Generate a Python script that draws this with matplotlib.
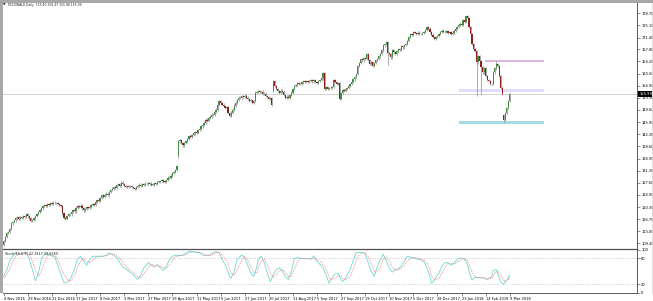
import numpy as np
import matplotlib
matplotlib.use("Agg")
import matplotlib.pyplot as plt
from matplotlib.patches import Rectangle
from matplotlib.lines import Line2D

# ---- data ----
title_text = "MCDONALD,Daily  155.40 156.47 155.88 155.99"
stoch_text = "Stoch(15,5,3) 42.3817 39.6380"
bid_text = "155.99"

first_open = 108.9
closes = [
    110.2, 111.3, 112.6, 112.9, 113.8, 115.4, 115.9, 116.3, 116.9, 117.2,
    116.8, 117.4, 117.1, 117.6, 117.3, 118.3, 117.5, 116.9, 116.2, 116.5,
    116.9, 117.6, 118.2, 118.9, 119.3, 119.9, 120.6, 120.9, 120.7, 121.2,
    121.0, 121.5, 121.4, 121.7, 121.5, 121.6, 121.3, 120.9, 120.6, 118.4,
    117.1, 116.8, 117.6, 118.3, 118.1, 118.9, 119.3, 119.0, 120.2, 120.6,
    120.4, 120.8, 119.9, 119.3, 119.8, 120.3, 120.0, 120.5, 120.9, 121.3,
    121.0, 121.8, 122.4, 122.1, 123.0, 123.9, 123.5, 124.1, 124.4, 124.0,
    124.9, 125.5, 125.9, 126.3, 126.0, 126.9, 127.2, 126.8, 127.7, 127.3,
    126.6, 126.4, 126.7, 126.3, 126.5, 126.4, 126.1, 125.9, 126.3, 126.8,
    127.1, 126.8, 127.2, 127.0, 127.4, 127.2, 127.5, 127.4, 127.0, 127.1,
    127.6, 127.3, 127.9, 127.9, 128.2, 128.4, 128.0, 127.9, 128.5, 129.2,
    129.0, 129.8, 130.5, 130.9, 131.5, 132.6, 140.1, 140.6, 139.6, 138.9,
    139.7, 140.1, 140.9, 141.6, 141.4, 142.1, 142.5, 142.9, 142.6, 143.6,
    143.9, 144.6, 145.2, 145.8, 146.7, 146.4, 147.2, 147.6, 148.2, 148.0,
    149.1, 149.7, 151.0, 152.3, 151.6, 151.2, 150.8, 150.2, 150.5, 148.7,
    147.7, 148.8, 149.7, 150.9, 151.8, 152.6, 153.3, 153.1, 153.8, 153.5,
    153.9, 153.3, 152.9, 152.3, 152.6, 151.8, 152.3, 154.8, 155.0, 155.3,
    154.9, 155.1, 154.3, 154.5, 153.8, 153.4, 152.8, 153.1, 151.0, 158.3,
    156.9, 155.8, 155.2, 154.8, 155.4, 155.1, 154.0, 153.1, 153.6, 153.3,
    154.1, 154.8, 155.9, 156.8, 157.2, 157.8, 157.5, 157.3, 157.9, 158.3,
    158.0, 158.4, 158.1, 158.3, 158.6, 158.2, 158.5, 158.1, 157.8, 158.4,
    158.7, 159.1, 160.6, 155.8, 156.4, 155.9, 156.1, 156.3, 156.5, 158.5,
    158.1, 157.5, 157.8, 152.8, 154.6, 155.5, 155.2, 155.8, 156.2, 156.7,
    157.3, 158.1, 158.8, 159.6, 160.4, 162.9, 163.8, 164.9, 164.5, 165.2,
    164.9, 166.4, 164.6, 163.4, 163.9, 162.9, 163.8, 164.5, 164.9, 165.7,
    166.4, 167.5, 169.0, 169.4, 170.0, 166.8, 166.4, 165.4, 167.5, 166.9,
    166.4, 167.2, 168.0, 167.6, 168.7, 168.4, 169.1, 169.5, 170.4, 171.5,
    172.5, 172.2, 173.0, 172.7, 172.5, 172.9, 172.4, 172.5, 172.8, 173.0,
    173.6, 174.5, 174.1, 173.0, 172.3, 171.6, 171.0, 171.5, 171.9, 172.5,
    173.1, 173.5, 173.2, 173.0, 173.4, 172.7, 173.0, 172.5, 172.7, 173.5,
    174.0, 174.6, 175.1, 175.6, 175.3, 176.6, 176.1, 177.8, 177.2, 174.5,
    172.5, 169.5, 168.0, 167.4, 163.9, 165.8, 164.4, 162.4, 160.9, 162.3,
    159.9, 158.7, 158.3, 157.3, 157.5, 160.9, 162.1, 163.4, 162.9, 159.9,
    156.3, 154.3, 146.6, 148.7, 150.2, 152.3, 154.3,
]
gap_opens = {116: 135.8, 179: 155.4, 332: 148.0}
wick_lows = {116: 135.0, 255: 163.0, 314: 153.8, 317: 154.5, 332: 145.7}
wick_highs = {308: 178.3, 327: 164.3}

# rectangles drawn on the chart (start bar, end bar, low, high, colour)
zone_start = [319.3, 302.0, 302.0]
zone_end = [358.7, 358.7, 358.7]
zone_low = [163.9, 155.0, 145.5]
zone_high = [164.6, 155.75, 146.4]
zone_colors = ["#dab6dc", "#dedef8", "#a3dce2"]

price_ticks = [178.70, 175.10, 171.40, 167.80, 164.20, 160.50, 156.90, 153.30,
               149.60, 145.90, 142.30, 138.60, 134.90, 131.30, 127.60, 124.00,
               120.30, 116.70, 113.00, 109.40]

date_labels = ["4 Nov 2016", "29 Nov 2016", "21 Dec 2016", "17 Jan 2017", "8 Feb 2017",
               "3 Mar 2017", "27 Mar 2017", "19 Apr 2017", "11 May 2017", "5 Jun 2017",
               "27 Jun 2017", "20 Jul 2017", "11 Aug 2017", "5 Sep 2017", "27 Sep 2017",
               "19 Oct 2017", "10 Nov 2017", "5 Dec 2017", "28 Dec 2017", "23 Jan 2018",
               "14 Feb 2018", "9 Mar 2018"]
date_step = 16

stoch_idx = [0, 2, 4, 6, 8, 10, 13, 15, 17, 19, 21, 23, 25, 27, 29, 31, 34, 36, 38, 40,
             43, 45, 47, 49, 51, 53, 55, 57, 59, 61, 64, 66, 68, 70, 72, 75, 77, 79, 81, 83,
             86, 88, 89, 91, 93, 96, 98, 100, 102, 104, 106, 108, 110, 112, 114, 117, 119, 121, 123, 125,
             128, 130, 132, 134, 137, 139, 141, 143, 145, 148, 150, 151, 153, 155, 158, 160, 162, 164, 166, 168,
             169, 171, 173, 175, 177, 179, 181, 183, 185, 187, 189, 191, 193, 195, 197, 200, 202, 204, 206, 207,
             210, 212, 214, 216, 217, 220, 222, 224, 225, 227, 230, 232, 234, 236, 238, 240, 242, 244, 246, 247,
             249, 251, 252, 254, 256, 258, 260, 262, 264, 266, 268, 271, 273, 275, 277, 279, 281, 283, 284, 286,
             289, 291, 293, 295, 297, 299, 302, 304, 306, 308, 309, 311, 313, 315, 317, 319, 321, 324, 325, 327,
             328, 330, 332, 333, 335, 336]
stoch_main = [38, 54, 74, 86, 93, 90, 93, 94, 78, 54, 28, 46, 78, 90, 90, 88, 82, 62, 42, 23,
              26, 38, 56, 78, 85, 74, 64, 77, 85, 85, 85, 85, 88, 93, 90, 82, 70, 60, 56, 50,
              42, 34, 31, 42, 58, 70, 64, 60, 66, 58, 52, 62, 77, 85, 88, 86, 88, 93, 96, 96,
              94, 93, 88, 86, 88, 93, 96, 93, 78, 58, 38, 34, 50, 78, 88, 82, 64, 46, 38, 60,
              78, 85, 70, 46, 26, 42, 54, 58, 50, 38, 31, 50, 80, 82, 80, 80, 80, 78, 86, 77,
              66, 58, 42, 22, 30, 44, 45, 30, 26, 34, 54, 74, 93, 94, 94, 90, 70, 50, 38, 50,
              70, 82, 90, 74, 58, 48, 54, 56, 62, 74, 85, 82, 80, 78, 77, 72, 58, 38, 22, 30,
              46, 62, 70, 70, 64, 70, 80, 81, 78, 66, 50, 30, 36, 35, 35, 34, 30, 38, 52, 54,
              46, 26, 20, 26, 34, 42]
stoch_signal = [34, 42, 56, 72, 84, 90, 91, 93, 88, 74, 52, 38, 50, 72, 86, 89, 86, 76, 60, 42,
                28, 28, 40, 58, 74, 80, 72, 70, 76, 82, 85, 85, 86, 89, 91, 87, 80, 70, 62, 55,
                48, 40, 36, 35, 44, 58, 66, 64, 63, 62, 58, 57, 64, 75, 84, 87, 87, 89, 93, 95,
                95, 94, 92, 88, 87, 89, 93, 94, 88, 74, 56, 46, 41, 54, 75, 84, 77, 62, 48, 46,
                58, 74, 78, 66, 46, 36, 42, 52, 54, 48, 38, 38, 54, 72, 81, 80, 80, 79, 81, 80,
                74, 66, 55, 38, 30, 34, 40, 39, 33, 30, 38, 54, 74, 88, 93, 93, 84, 68, 52, 46,
                52, 68, 78, 82, 74, 60, 53, 53, 57, 64, 74, 82, 82, 80, 78, 76, 69, 56, 40, 30,
                33, 46, 60, 68, 68, 67, 72, 78, 80, 75, 65, 48, 38, 34, 35, 35, 33, 34, 40, 48,
                51, 42, 30, 25, 31, 39]

# ---- figure layout (pixel based) ----
W, H = 653, 301
fig = plt.figure(figsize=(W / 100, H / 100), dpi=100)
fig.patch.set_facecolor("white")
plt.rcParams["font.family"] = ["DejaVu Sans"]


def box(x0, y0, x1, y1):
    return [x0 / W, 1 - y1 / H, (x1 - x0) / W, (y1 - y0) / H]


ax = fig.add_axes(box(3, 3, 637, 249))
ax2 = fig.add_axes(box(3, 249, 637, 292.7), sharex=ax)

n = len(closes)
idx = np.arange(n)
c = np.array(closes)
o = np.r_[first_open, c[:-1]]
for k, v in gap_opens.items():
    o[k] = v
top = np.maximum(o, c)
bot = np.minimum(o, c)
hi = top + 0.35
lo = bot - 0.35
for k, v in wick_lows.items():
    lo[k] = v
for k, v in wick_highs.items():
    hi[k] = v

# zones
for s, e, l, h, col in zip(zone_start, zone_end, zone_low, zone_high, zone_colors):
    ax.add_patch(Rectangle((s, l), e - s, h - l, facecolor=col, edgecolor="none", zorder=1))

# bid line
ax.axhline(c[-1], color="#cccccc", lw=0.6, zorder=1)

ax.vlines(idx, lo, hi, color="#a8a8a8", lw=0.7, zorder=2)
up = c >= o
cols = np.where(up, "#438c43", "#8e1f1f")
ax.bar(idx, np.maximum(top - bot, 0.2), bottom=bot, width=0.85, color=cols, linewidth=0, zorder=3)

ax.set_xlim(-0.5, 420.5)
ax.set_ylim(107.7, 181.8)
ax.yaxis.tick_right()
ax.set_yticks(price_ticks)
ax.set_yticklabels(["%.2f" % t for t in price_ticks])
ax.tick_params(axis="y", length=2, width=0.4, color="#404040", labelsize=2.6, pad=1)
ax.tick_params(axis="x", bottom=False, labelbottom=False)
for side in ["left", "top", "bottom"]:
    ax.spines[side].set_visible(False)
ax.spines["right"].set_color("#404040")
ax.spines["right"].set_linewidth(0.6)

# stochastic panel
ax2.axhline(80, color="#b4b4b4", lw=0.5, ls=(0, (1, 1.5)))
ax2.axhline(20, color="#b4b4b4", lw=0.5, ls=(0, (1, 1.5)))
ax2.plot(stoch_idx, stoch_main, color="#6fd6d6", lw=0.6)
ax2.plot(stoch_idx, stoch_signal, color="#f08080", lw=0.6, ls=(0, (1.2, 1.2)))
ax2.set_ylim(0, 102)
ax2.yaxis.tick_right()
ax2.set_yticks([0, 20, 80, 100])
ax2.set_yticklabels(["0", "20", "80", "100"])
ax2.tick_params(axis="y", length=2, width=0.4, color="#404040", labelsize=2.6, pad=1)
date_pos = [k * date_step for k in range(len(date_labels))]
ax2.set_xticks(date_pos)
ax2.set_xticklabels(date_labels, ha="left")
ax2.tick_params(axis="x", length=2, width=0.4, color="#404040", labelsize=2.6, pad=1)
ax2.spines["left"].set_visible(False)
for side in ["right", "bottom"]:
    ax2.spines[side].set_color("#404040")
    ax2.spines[side].set_linewidth(0.6)
ax2.spines["top"].set_color("#505050")
ax2.spines["top"].set_linewidth(0.9)
ax2.text(0.5, 96, stoch_text, fontsize=2.4, va="top", ha="left", color="#222222")

# header and window frame
fig.text(7.5 / W, 1 - 5 / H, title_text, fontsize=2.2, va="center", ha="left", color="#222222")
fig.text(2.5 / W, 1 - 5 / H, "\u25bc", fontsize=2.4, va="center", ha="left", color="#222222")
fig.patches.append(Rectangle((0, 1 - 2.5 / H), 1, 2.5 / H, transform=fig.transFigure,
                             facecolor="#a8a8a8", edgecolor="none"))
fig.patches.append(Rectangle((0, 1 - 293 / H), 2.5 / W, 293 / H, transform=fig.transFigure,
                             facecolor="#a8a8a8", edgecolor="none"))
fig.lines.append(Line2D([651.5 / W, 651.5 / W], [1 - 293 / H, 1 - 2.5 / H], transform=fig.transFigure,
                        color="#d0d0d0", lw=0.5))

# current price box on the price scale
yb = ax.transData.transform((0, c[-1]))[1] / H
fig.patches.append(Rectangle((637.5 / W, yb - 2.8 / H), 14 / W, 5.6 / H, transform=fig.transFigure,
                             facecolor="black", edgecolor="none"))
fig.text(639.5 / W, yb, bid_text, fontsize=2.6, va="center", ha="left", color="white")

fig.savefig("out.png", dpi=100)
